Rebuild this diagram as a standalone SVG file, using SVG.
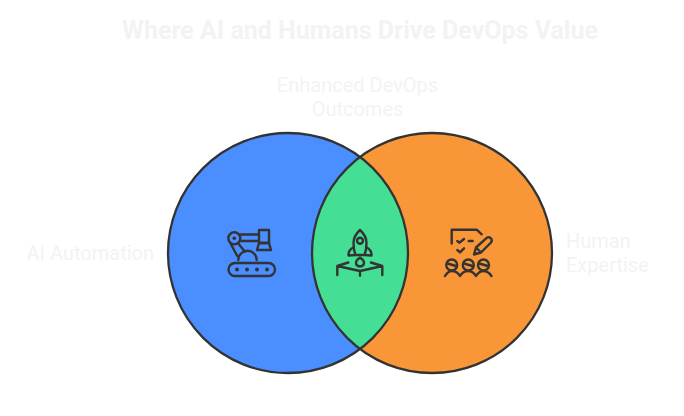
<svg xmlns="http://www.w3.org/2000/svg" width="684" height="416" viewBox="0 0 684 416">
<style>
text{font-family:Roboto,"Liberation Sans",sans-serif;fill:#f3f3f3}
.title{font-size:25px;font-weight:700}
.label{font-size:20px}
.i{fill:none;stroke:#333;stroke-width:2.400;stroke-linecap:round;stroke-linejoin:round}
.c{fill:none;stroke:#333;stroke-width:2.300}
</style>
<rect width="684" height="416" fill="#fff"/>
<text id="title" class="title" x="360" y="39" text-anchor="middle">Where AI and Humans Drive DevOps Value</text>
<g id="ai-automation">
<circle cx="288" cy="253" r="120" fill="#4b8eff"/>
<text class="label" x="154" y="260" text-anchor="end">AI Automation</text>
<g class="i">
<rect x="228.5" y="263" width="46.500" height="13" rx="6.500"/>
<circle cx="234.300" cy="238.300" r="6"/>
<path d="M240 234.500H259M240 241H259M230.800 244L237.300 256M238.300 243.500L245 251.700M238.300 260A9.200 9.200 0 0 1 256.700 260"/>
<rect x="259" y="230" width="10" height="13"/>
<path d="M259 243H269L271 250H257Z"/>
</g>
<g fill="#333">
<circle cx="234.300" cy="238.300" r="1.800"/>
<circle cx="237" cy="269.500" r="2"/><circle cx="247" cy="269.500" r="2"/><circle cx="257" cy="269.500" r="2"/><circle cx="267" cy="269.500" r="2"/>
</g>
</g>
<g id="human-expertise">
<circle cx="432" cy="253" r="120" fill="#f99637"/>
<text class="label" x="566" y="248">Human</text>
<text class="label" x="566" y="272">Expertise</text>
<g class="i">
<path d="M451.700 243.500V229.700H476.700L481.700 234.300M457.300 241L459.300 242.700L464 239M468.700 241H472.700M457.300 250L460 252.300L464 248.300"/>
<path d="M474 254.500L476 247.500L487 237.700Q489.500 236.500 491 238.500Q492.500 240.500 491 242.500L481 252.500ZM476 247.500L481 252.500"/>
<circle cx="451.700" cy="265" r="5.500"/><circle cx="468.300" cy="265" r="5.500"/><circle cx="483.500" cy="265" r="5.500"/>
<path d="M447.500 263.500L456 266M464 263.500L472.500 266M479.300 263.500L487.700 266"/>
<path d="M445 276Q448 271 452 271Q457 271 460 276Q463 271 468 271Q473 271 476 276Q479 271 483.500 271Q488 271 491.500 276"/>
</g>
</g>
<g id="connectors"></g>
<g id="overlap">
<path d="M360 157A120 120 0 0 1 360 349A120 120 0 0 1 360 157Z" fill="#44df95"/>
<text class="label" x="357.500" y="92" text-anchor="middle">Enhanced DevOps</text>
<text class="label" x="357.500" y="116" text-anchor="middle">Outcomes</text>
<g class="i">
<path d="M360 230Q353.500 236 353.500 243Q353.500 250 355.500 255H364.500Q366.500 250 366.500 243Q366.500 236 360 230Z"/>
<circle cx="360" cy="240.700" r="3"/>
<path d="M354 247Q348 250 348.500 255.500L355.500 255M366 247Q372 250 371.500 255.500L364.500 255"/>
<path d="M360 257.500Q356 260 356 263Q356 266 360 266.500Q364 266 364 263Q364 260 360 257.500Z"/>
<path d="M337.300 275V266L348.300 262.500M382.300 275V266L371 262.500M337.300 266L360 271L382.300 266M360 271V275.700"/>
</g>
</g>
<g id="outlines">
<circle class="c" cx="288" cy="253" r="120"/>
<circle class="c" cx="432" cy="253" r="120"/>
</g>
</svg>
